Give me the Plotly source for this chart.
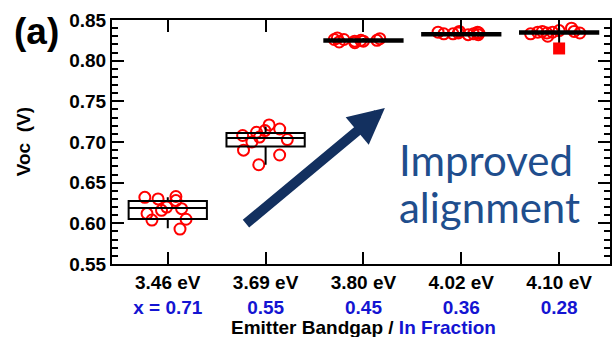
import plotly.graph_objects as go

# ---- data ----
bandgap_labels = ["3.46 eV", "3.69 eV", "3.80 eV", "4.02 eV", "4.10 eV"]
in_fraction_labels = ["x = 0.71", "0.55", "0.45", "0.36", "0.28"]
group_pos = [0, 1, 2, 3, 4]

q1 = [0.6053, 0.6945, 0.8233, 0.8310, 0.8331]
median = [0.6190, 0.7050, 0.8248, 0.8325, 0.8346]
q3 = [0.6275, 0.7112, 0.8263, 0.8340, 0.8361]
lowerfence = [0.5940, 0.6720, 0.8225, 0.8310, 0.8150]
upperfence = [0.6320, 0.7190, 0.8280, 0.8355, 0.8400]

voc_346 = [0.633, 0.632, 0.630, 0.628, 0.620, 0.618, 0.616, 0.612, 0.605, 0.604, 0.593]
voc_369 = [0.721, 0.716, 0.714, 0.712, 0.708, 0.706, 0.703, 0.700, 0.690, 0.684, 0.672]
voc_380 = [0.828, 0.827, 0.826, 0.826, 0.825, 0.825, 0.824, 0.824, 0.823, 0.822]
voc_402 = [0.836, 0.835, 0.835, 0.834, 0.834, 0.833, 0.833, 0.833, 0.832, 0.832]
voc_410 = [0.840, 0.837, 0.836, 0.836, 0.835, 0.835, 0.834, 0.834, 0.833, 0.830]

min_marker_x = [4]
min_marker_y = [0.815]

groups = [voc_346, voc_369, voc_380, voc_402, voc_410]

BLUE = "#1414D2"
FONT = "Liberation Sans, Arial, sans-serif"

pts_x, pts_y = [], []
for pos, vals in zip(group_pos, groups):
    pts_x += [pos] * len(vals)
    pts_y += vals

fig = go.Figure()

# scatter points (jittered) drawn via an invisible box trace
fig.add_trace(go.Box(
    x=pts_x, y=pts_y, boxpoints="all", jitter=0.8, pointpos=0,
    width=0.8, whiskerwidth=0,
    line=dict(width=0, color="rgba(0,0,0,0)"), fillcolor="rgba(0,0,0,0)",
    marker=dict(symbol="circle-open", color="red", size=11,
                line=dict(width=2, color="red")),
    showlegend=False, hoverinfo="y",
))

fig.add_trace(go.Scatter(
    x=min_marker_x, y=min_marker_y, mode="markers",
    marker=dict(symbol="square", color="red", size=12),
    showlegend=False,
))

# boxes from precomputed statistics
fig.add_trace(go.Box(
    x=group_pos, q1=q1, median=median, q3=q3,
    lowerfence=lowerfence, upperfence=upperfence,
    width=0.8, whiskerwidth=0, boxpoints=False,
    line=dict(color="black", width=2), fillcolor="rgba(0,0,0,0)",
    showlegend=False,
))

ticktext = [f"{a}<br><span style='color:{BLUE}'>{b}</span>"
            for a, b in zip(bandgap_labels, in_fraction_labels)]


def px_x(p):
    return (p - 112) / 500


def px_y(p):
    return (264 - p) / 244


fig.update_layout(
    width=616, height=337,
    margin=dict(l=112, r=4, t=20, b=73),
    paper_bgcolor="white", plot_bgcolor="white",
    boxmode="overlay",
    font=dict(family=FONT, size=19, color="black", weight="bold"),
    xaxis=dict(
        range=[-0.57, 4.52], tickvals=group_pos, ticktext=ticktext,
        ticks="inside", ticklen=12, tickwidth=2, tickcolor="black",
        showline=True, linewidth=2, linecolor="black", mirror="allticks",
        showgrid=False, zeroline=False,
        tickfont=dict(family=FONT, size=19, color="black", weight="bold"),
    ),
    yaxis=dict(
        range=[0.55, 0.85], dtick=0.05, tick0=0.55, tickformat=".2f",
        ticks="inside", ticklen=12, tickwidth=2, tickcolor="black",
        minor=dict(dtick=0.01, ticks="inside", ticklen=6, tickwidth=1.5,
                   tickcolor="black", showgrid=False),
        showline=True, linewidth=2, linecolor="black", mirror="allticks",
        showgrid=False, zeroline=False,
        tickfont=dict(family=FONT, size=19, color="black", weight="bold"),
    ),
    annotations=[
        dict(text="Voc  (V)", textangle=-90, xref="paper", yref="paper",
             x=px_x(23), y=px_y(142), xanchor="center", yanchor="middle",
             showarrow=False,
             font=dict(family=FONT, size=19, color="black", weight="bold")),
        dict(text=f"Emitter Bandgap / <span style='color:{BLUE}'>In Fraction</span>",
             xref="paper", yref="paper", xanchor="center", yanchor="middle",
             x=px_x(365), y=px_y(327), showarrow=False,
             font=dict(family=FONT, size=19, color="black", weight="bold")),
        dict(text="(a)", xref="paper", yref="paper", xanchor="center", yanchor="middle",
             x=px_x(36), y=px_y(31), showarrow=False,
             font=dict(family=FONT, size=37, color="black", weight="bold")),
        dict(text="Improved", xref="paper", yref="paper", xanchor="left", yanchor="middle",
             x=px_x(398), y=px_y(160), showarrow=False,
             font=dict(family="Lato, sans-serif", size=42, color="#1F4E8D",
                       weight="normal")),
        dict(text="alignment", xref="paper", yref="paper", xanchor="left", yanchor="middle",
             x=px_x(398), y=px_y(207), showarrow=False,
             font=dict(family="Lato, sans-serif", size=42, color="#1F4E8D",
                       weight="normal")),
        dict(x=2.219, y=0.7418, ax=0.784, ay=0.598, xref="x", yref="y",
             axref="x", ayref="y", text="", showarrow=True,
             arrowhead=2, arrowsize=0.72, arrowwidth=10, arrowcolor="#13305F",
             standoff=0, startstandoff=0),
    ],
)

fig.write_html("out.html")
